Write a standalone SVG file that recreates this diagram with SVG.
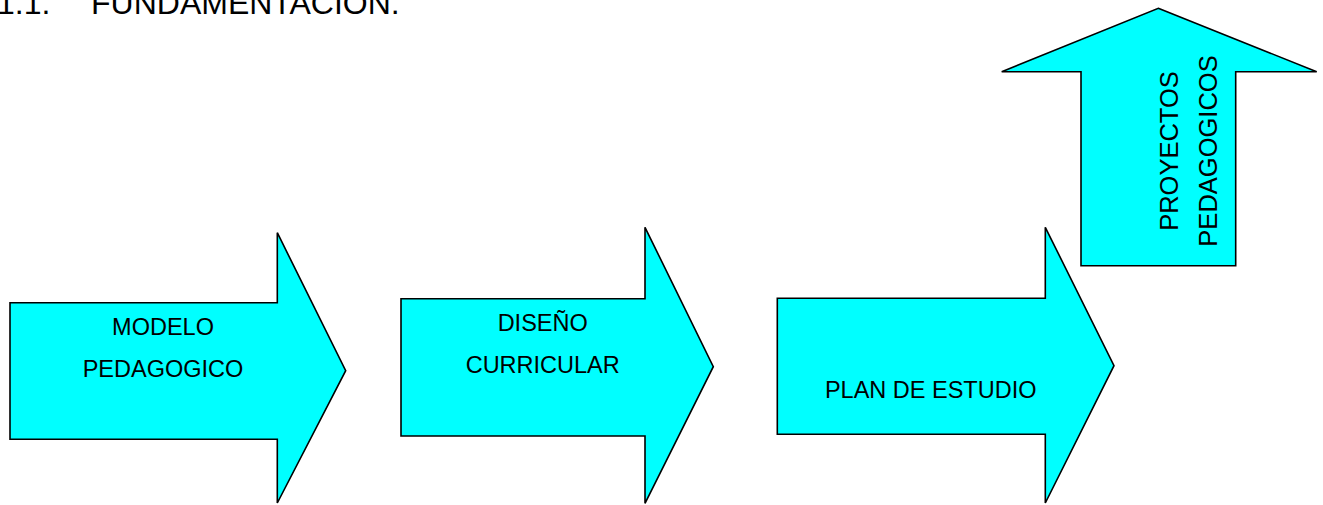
<svg xmlns="http://www.w3.org/2000/svg" width="1323" height="505" viewBox="0 0 1323 505">
<style>
.shape{fill:#00FFFF;stroke:#000;stroke-width:1.6;stroke-linejoin:miter}
.lbl{font-family:"Liberation Sans",Arial,sans-serif;font-size:23.5px;fill:#000;text-anchor:middle}
.vlbl{font-family:"Liberation Sans",Arial,sans-serif;font-size:25.5px;fill:#000;text-anchor:middle}
.title{font-family:"Liberation Sans",Arial,sans-serif;font-size:32px;fill:#000}
</style>
<rect width="1323" height="505" fill="#fff"/>
<text class="title" x="-3" y="14">1.1.</text>
<text class="title" x="91" y="14">FUNDAMENTACION.</text>
<g id="modelo">
<polygon class="shape" points="10,302.7 277.3,302.7 277.3,232.7 345.7,370.7 277.3,503 277.3,439.3 10,439.3"/>
<text class="lbl" x="163" y="335">MODELO</text>
<text class="lbl" x="163" y="376.5">PEDAGOGICO</text>
</g>
<g id="diseno">
<polygon class="shape" points="401,298.7 645,298.7 645,227.3 713.3,366.7 645,503.3 645,436 401,436"/>
<text class="lbl" x="542.7" y="331">DISEÑO</text>
<text class="lbl" x="542.7" y="372.5">CURRICULAR</text>
</g>
<g id="plan">
<polygon class="shape" points="777.3,298.3 1045.3,298.3 1045.3,227.3 1114,365.7 1045.3,503 1045.3,434.3 777.3,434.3"/>
<text class="lbl" x="930.7" y="398.3">PLAN DE ESTUDIO</text>
</g>
<g id="proyectos">
<polygon class="shape" points="1158.3,8.3 1316.7,71.7 1235.7,71.7 1235.7,265.7 1081,265.7 1081,71.7 1001.7,71.7"/>
<text class="vlbl" transform="translate(1178.3,151) rotate(-90)" x="0" y="0">PROYECTOS</text>
<text class="vlbl" transform="translate(1216.7,151) rotate(-90)" x="0" y="0">PEDAGOGICOS</text>
</g>
<g id="connectors"></g>
</svg>
